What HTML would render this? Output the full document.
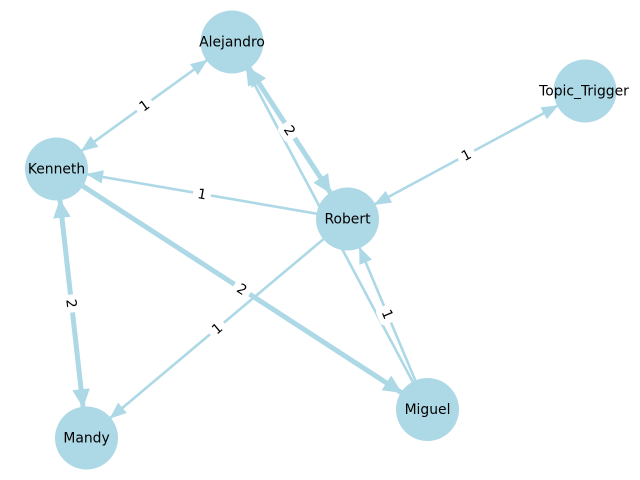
<!DOCTYPE html>
<html><head><meta charset="utf-8"><style>
html,body{margin:0;padding:0;background:#fff;width:640px;height:480px;overflow:hidden}
svg{display:block}
text{font-family:"DejaVu Sans","Liberation Sans",sans-serif;font-size:13.9px;fill:#000}
</style></head><body>
<svg width="640" height="480" viewBox="0 0 640 480" xmlns="http://www.w3.org/2000/svg">
<rect width="640" height="480" fill="#fff"/>
<g stroke="#add8e6" fill="none" stroke-linecap="butt">
  <line x1="56.5" y1="169" x2="232" y2="42" stroke-width="2.6"/>
  <line x1="232" y1="42" x2="347.5" y2="219" stroke-width="5"/>
  <line x1="427.5" y1="409.5" x2="232" y2="42" stroke-width="2.6"/>
  <line x1="347.5" y1="219" x2="56.5" y2="169" stroke-width="2.6"/>
  <line x1="347.5" y1="219" x2="585" y2="91" stroke-width="2.6"/>
  <line x1="56.5" y1="169" x2="427.5" y2="409.5" stroke-width="5"/>
  <line x1="347.5" y1="219" x2="86.5" y2="438" stroke-width="2.6"/>
  <line x1="56.5" y1="169" x2="86.5" y2="438" stroke-width="5"/>
  <line x1="427.5" y1="409.5" x2="347.5" y2="219" stroke-width="2.6"/>
</g>
<g fill="#add8e6" stroke="#add8e6" stroke-width="1" stroke-linejoin="miter">
  <polygon points="206.5,60.5 197.87,74.15 190.83,64.43"/>
  <polygon points="82,150.5 97.67,146.57 90.63,136.85"/>
  <polygon points="330.3,192.6 314.31,182.73 327.71,173.99"/>
  <polygon points="249.2,68.4 265.19,78.27 251.79,87.01"/>
  <polygon points="246.8,69.8 259.14,80.22 248.54,85.86"/>
  <polygon points="87.5,174.3 103.30,170.93 101.26,182.75"/>
  <polygon points="557.3,105.9 546.95,118.3 541.25,107.74"/>
  <polygon points="375.2,204.1 391.25,202.26 385.55,191.7"/>
  <polygon points="401.1,392.4 382.48,389.86 391.18,376.44"/>
  <polygon points="110.6,417.8 118.23,403.56 125.95,412.76"/>
  <polygon points="83,406.7 73.17,390.7 89.07,388.92"/>
  <polygon points="60,200.3 69.83,216.3 53.93,218.08"/>
  <polygon points="359.7,248 371.04,259.51 359.98,264.15"/>
</g>
<g>
  <g transform="translate(144.25,105.5) rotate(-35.9)"><rect x="-9" y="-10" width="18" height="20" rx="4" fill="#fff"/><text x="0" y="4.8" text-anchor="middle">1</text></g>
  <g transform="translate(289.75,130.5) rotate(56.9)"><rect x="-9" y="-10" width="18" height="20" rx="4" fill="#fff"/><text x="0" y="4.8" text-anchor="middle">2</text></g>
  <g transform="translate(202,194) rotate(9.75)"><rect x="-9" y="-10" width="18" height="20" rx="4" fill="#fff"/><text x="0" y="4.8" text-anchor="middle">1</text></g>
  <g transform="translate(466.25,155) rotate(-28.3)"><rect x="-9" y="-10" width="18" height="20" rx="4" fill="#fff"/><text x="0" y="4.8" text-anchor="middle">1</text></g>
  <g transform="translate(242,289.25) rotate(32.95)"><rect x="-9" y="-10" width="18" height="20" rx="4" fill="#fff"/><text x="0" y="4.8" text-anchor="middle">2</text></g>
  <g transform="translate(217,328.5) rotate(-40)"><rect x="-9" y="-10" width="18" height="20" rx="4" fill="#fff"/><text x="0" y="4.8" text-anchor="middle">1</text></g>
  <g transform="translate(71.5,303.5) rotate(83.6)"><rect x="-9" y="-10" width="18" height="20" rx="4" fill="#fff"/><text x="0" y="4.8" text-anchor="middle">2</text></g>
  <g transform="translate(387.5,314.25) rotate(67.2)"><rect x="-9" y="-10" width="18" height="20" rx="4" fill="#fff"/><text x="0" y="4.8" text-anchor="middle">1</text></g>
</g>
<g fill="#add8e6">
  <circle cx="232" cy="42" r="31.5"/>
  <circle cx="585" cy="91" r="31.5"/>
  <circle cx="56.5" cy="169" r="31.5"/>
  <circle cx="347.5" cy="219" r="31.5"/>
  <circle cx="86.5" cy="438" r="31.5"/>
  <circle cx="427.5" cy="409.5" r="31.5"/>
</g>
<g text-anchor="middle">
  <text x="232" y="46.5">Alejandro</text>
  <text x="584" y="95.5">Topic_Trigger</text>
  <text x="56.5" y="173.5">Kenneth</text>
  <text x="347.5" y="223.5">Robert</text>
  <text x="86.5" y="442.5">Mandy</text>
  <text x="427.5" y="414">Miguel</text>
</g>
</svg>
</body></html>
